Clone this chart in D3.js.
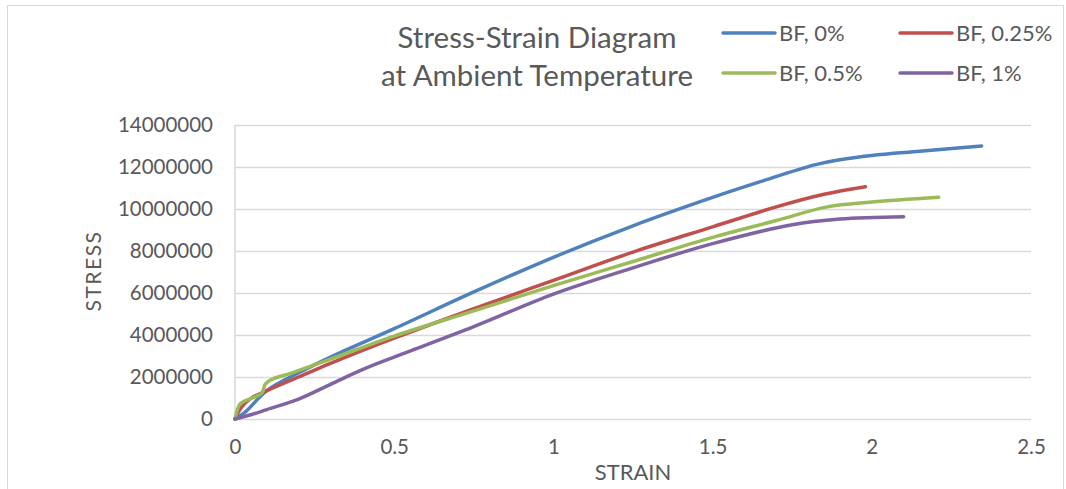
<!DOCTYPE html>
<html>
<head>
<meta charset="utf-8">
<script src="https://cdn.jsdelivr.net/npm/d3@7/dist/d3.min.js"></script>
<style>
  html, body { margin: 0; padding: 0; background: #fff; }
  svg { display: block; font-family: Lato, "Open Sans", sans-serif; }
</style>
</head>
<body>
<svg id="chart" width="1066" height="489"></svg>
<script>
// Stress-strain curves for basalt-fibre mixes at ambient temperature
const seriesNames = ["BF, 0%", "BF, 0.25%", "BF, 0.5%", "BF, 1%"];
const seriesColors = ["#4F81BD", "#C0504D", "#9BBB59", "#8064A2"];

const strain0 = [0, 0.03, 0.1, 0.2, 0.3, 0.5, 0.75, 1.0, 1.25, 1.5, 1.65, 1.82, 1.9, 2.0, 2.15, 2.345];
const stress0 = [0, 300000, 1350000, 2200000, 2950000, 4300000, 6050000, 7700000, 9200000, 10550000, 11300000, 12100000, 12350000, 12550000, 12750000, 13000000];

const strain025 = [0, 0.02, 0.05, 0.1, 0.2, 0.3, 0.5, 0.75, 1.0, 1.25, 1.5, 1.7, 1.85, 1.98];
const stress025 = [0, 550000, 980000, 1350000, 2000000, 2650000, 3850000, 5250000, 6600000, 7950000, 9150000, 10100000, 10700000, 11060000];

const strain05 = [0, 0.015, 0.03, 0.07, 0.085, 0.095, 0.11, 0.18, 0.3, 0.5, 0.75, 1.0, 1.25, 1.5, 1.7, 1.86, 2.0, 2.21];
const stress05 = [0, 700000, 850000, 1100000, 1250000, 1650000, 1850000, 2200000, 2850000, 3950000, 5150000, 6350000, 7500000, 8650000, 9450000, 10100000, 10330000, 10560000];

const strain1 = [0, 0.05, 0.1, 0.2, 0.3, 0.4, 0.5, 0.75, 1.0, 1.25, 1.5, 1.75, 1.9, 2.1];
const stress1 = [0, 200000, 450000, 950000, 1650000, 2350000, 2950000, 4400000, 5950000, 7200000, 8350000, 9250000, 9520000, 9630000];

const xTicks = [0, 0.5, 1, 1.5, 2, 2.5];
const yTicks = [0, 2000000, 4000000, 6000000, 8000000, 10000000, 12000000, 14000000];

const titleLines = ["Stress-Strain Diagram", "at Ambient Temperature"];
const xTitle = "STRAIN";
const yTitle = "STRESS";

const series = [
  { name: seriesNames[0], color: seriesColors[0], xs: strain0, ys: stress0 },
  { name: seriesNames[1], color: seriesColors[1], xs: strain025, ys: stress025 },
  { name: seriesNames[2], color: seriesColors[2], xs: strain05, ys: stress05 },
  { name: seriesNames[3], color: seriesColors[3], xs: strain1, ys: stress1 }
];

const svg = d3.select("#chart");
const textColor = "#595959";
const gridColor = "#D9D9D9";

// chart frame
svg.append("rect")
  .attr("x", 7.5).attr("y", 5.5)
  .attr("width", 1056).attr("height", 490)
  .attr("fill", "#fff").attr("stroke", gridColor).attr("stroke-width", 1);

const plot = { left: 235, right: 1031, top: 125, bottom: 419 };

const x = d3.scaleLinear().domain([0, 2.5]).range([plot.left, plot.right]);
const y = d3.scaleLinear().domain([0, 14000000]).range([plot.bottom, plot.top]);

// horizontal gridlines
svg.append("g")
  .attr("transform", `translate(${plot.left},0)`)
  .call(d3.axisRight(y).tickValues(yTicks).tickSize(plot.right - plot.left).tickFormat(""))
  .call(g => g.select(".domain").remove())
  .call(g => g.selectAll("line").attr("stroke", gridColor).attr("stroke-width", 1.5));

// vertical axis line
svg.append("line")
  .attr("x1", plot.left).attr("x2", plot.left)
  .attr("y1", plot.top).attr("y2", plot.bottom)
  .attr("stroke", gridColor).attr("stroke-width", 1.5);

// y tick labels
svg.append("g")
  .attr("transform", `translate(${plot.left - 22},0)`)
  .call(d3.axisLeft(y).tickValues(yTicks).tickSize(0).tickPadding(0).tickFormat(d3.format("d")))
  .call(g => g.select(".domain").remove())
  .call(g => g.selectAll("text")
    .attr("fill", textColor).style("font-size", "20.5px").style("font-family", "Lato, sans-serif"));

// x tick labels
svg.append("g")
  .attr("transform", `translate(0,${plot.bottom + 20})`)
  .call(d3.axisBottom(x).tickValues(xTicks).tickSize(0).tickPadding(0).tickFormat(d => String(d)))
  .call(g => g.select(".domain").remove())
  .call(g => g.selectAll("text")
    .attr("fill", textColor).style("font-size", "20.5px").style("font-family", "Lato, sans-serif"));

// axis titles
svg.append("text")
  .attr("x", 633).attr("y", 480)
  .attr("text-anchor", "middle")
  .attr("fill", textColor).style("font-size", "22px")
  .text(xTitle);

svg.append("text")
  .attr("transform", "translate(101,271) rotate(-90)")
  .attr("text-anchor", "middle")
  .attr("fill", textColor).style("font-size", "21px")
  .style("letter-spacing", "1.5px")
  .text(yTitle);

// curves
const line = d3.line()
  .x(d => x(d[0]))
  .y(d => y(d[1]))
  .curve(d3.curveCatmullRom.alpha(0.5));

svg.append("g")
  .selectAll("path")
  .data(series)
  .join("path")
  .attr("d", s => line(s.xs.map((v, i) => [v, s.ys[i]])))
  .attr("fill", "none")
  .attr("stroke", s => s.color)
  .attr("stroke-width", 3.5)
  .attr("stroke-linecap", "round")
  .attr("stroke-linejoin", "round");

// title
svg.append("g")
  .selectAll("text")
  .data(titleLines)
  .join("text")
  .attr("x", 537)
  .attr("y", (d, i) => 48 + i * 38)
  .attr("text-anchor", "middle")
  .attr("fill", textColor)
  .style("font-size", "29.5px")
  .text(d => d);

// legend, two columns by two rows
const legendPos = [[723, 33], [900, 33], [723, 73], [900, 73]];
const legend = svg.append("g")
  .selectAll("g")
  .data(series)
  .join("g")
  .attr("transform", (d, i) => `translate(${legendPos[i][0]},${legendPos[i][1]})`);

legend.append("line")
  .attr("x1", 0).attr("x2", 52)
  .attr("stroke", d => d.color)
  .attr("stroke-width", 3.5)
  .attr("stroke-linecap", "round");

legend.append("text")
  .attr("x", 56).attr("y", 0)
  .attr("dy", "0.35em")
  .attr("fill", textColor)
  .style("font-size", "22px")
  .text(d => d.name);
</script>
</body>
</html>
